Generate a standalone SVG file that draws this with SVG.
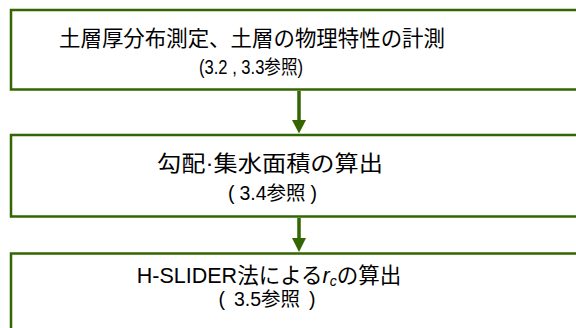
<svg xmlns="http://www.w3.org/2000/svg" width="576" height="328" viewBox="0 0 576 328">
<defs>
<style>
.box{fill:#ffffff;stroke:#336600;stroke-width:2.5}
.t{font-family:"Liberation Sans","Noto Sans CJK JP",sans-serif;fill:#000;text-anchor:middle}
.l1{font-size:21.5px}
.l2{font-size:19.5px}
.conn{stroke:#336600;stroke-width:3.5;fill:none}
.head{fill:#336600}
</style>
</defs>
<g id="node1">
<rect class="box" x="11" y="10" width="600" height="79.5"/>
<text class="t l1" x="252" y="46" textLength="386" lengthAdjust="spacingAndGlyphs">土層厚分布測定、土層の物理特性の計測</text>
<text class="t l2" x="251" y="74" textLength="104" lengthAdjust="spacingAndGlyphs">(3.2 , 3.3参照)</text>
</g>
<g id="node2">
<rect class="box" x="11" y="135" width="600" height="81.5"/>
<text class="t l1" x="270" y="171" textLength="226" lengthAdjust="spacingAndGlyphs">勾配·集水面積の算出</text>
<text class="t l2" x="272.5" y="200">(<tspan dx="5">3.4参照</tspan><tspan dx="5">)</tspan></text>
</g>
<g id="node3">
<rect class="box" x="11" y="253.5" width="600" height="100"/>
<text class="t l1" x="269" y="283">H-SLIDER法による<tspan font-style="italic">r</tspan><tspan font-style="italic" font-size="14px" dy="3">c</tspan><tspan dy="-3">の算出</tspan></text>
<text class="t l2" x="267" y="306">(<tspan dx="9">3.5参照</tspan><tspan dx="9">)</tspan></text>
</g>
<g id="connectors">
<line class="conn" x1="299" y1="91" x2="299" y2="121"/>
<polygon class="head" points="292,120 306,120 299,133.5"/>
<line class="conn" x1="299" y1="218" x2="299" y2="239"/>
<polygon class="head" points="292,238 306,238 299,252"/>
</g>
</svg>
